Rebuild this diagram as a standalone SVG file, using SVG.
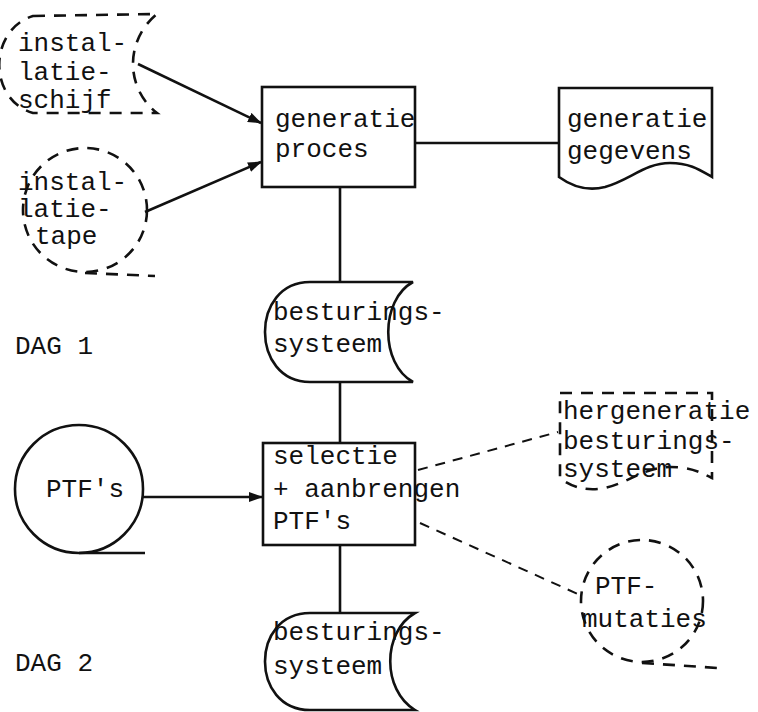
<svg xmlns="http://www.w3.org/2000/svg" width="758" height="712" viewBox="0 0 758 712">
  <style>
    .t { font-family: "Liberation Mono", "Courier New", monospace; font-size: 26px; fill: #111; }
    .s { fill: #fff; stroke: #111; stroke-width: 2.6; }
    .d { fill: none; stroke: #111; stroke-width: 2.6; stroke-dasharray: 12 9; }
    .c { fill: none; stroke: #111; stroke-width: 2.6; }
    .cd { fill: none; stroke: #111; stroke-width: 2; stroke-dasharray: 10 8; }
  </style>
  <defs>
    <marker id="arrow" viewBox="0 0 14 10" refX="13" refY="5" markerWidth="14" markerHeight="10" markerUnits="userSpaceOnUse" orient="auto">
      <path d="M0,0 L14,5 L0,10 Z" fill="#111"/>
    </marker>
  </defs>
  <rect width="758" height="712" fill="#fff"/>

  <!-- connectors -->
  <g id="connectors">
    <line class="c" x1="138" y1="64" x2="261" y2="123" marker-end="url(#arrow)"/>
    <line class="c" x1="145" y1="212" x2="261" y2="162" marker-end="url(#arrow)"/>
    <line class="c" x1="415" y1="143" x2="559" y2="143"/>
    <line class="c" x1="340" y1="187" x2="340" y2="282"/>
    <line class="c" x1="340" y1="382" x2="340" y2="443"/>
    <line class="c" x1="143" y1="497" x2="262" y2="497" marker-end="url(#arrow)"/>
    <line class="c" x1="340" y1="545" x2="340" y2="613"/>
    <line class="cd" x1="418" y1="470" x2="558" y2="432"/>
    <line class="cd" x1="420" y1="523" x2="580" y2="595"/>
  </g>

  <!-- installation disk (dashed) -->
  <g id="installatie-schijf">
    <path class="d" d="M33,16 L157,14 C125,40 125,88 157,113 L33,113 C-12,100 -12,30 33,16 Z"/>
    <text class="t" x="18" y="51">instal-</text>
    <text class="t" x="18" y="80">latie-</text>
    <text class="t" x="18" y="108">schijf</text>
  </g>

  <!-- installation tape (dashed) -->
  <g id="installatie-tape">
    <circle class="d" cx="85" cy="210" r="62"/>
    <line class="d" x1="85" y1="273" x2="155" y2="276"/>
    <text class="t" x="18" y="190">instal-</text>
    <text class="t" x="18" y="217">latie-</text>
    <text class="t" x="35" y="244">tape</text>
  </g>

  <!-- generation process -->
  <g id="generatie-proces">
    <rect class="s" x="262" y="87" width="153" height="100"/>
    <text class="t" x="275" y="127">generatie</text>
    <text class="t" x="275" y="157">proces</text>
  </g>

  <!-- generation data document -->
  <g id="generatie-gegevens">
    <path class="s" d="M559,88 H712 V177 C700,170 690,163 670,163 C645,163 630,180 605,187 C585,192 570,185 559,177 Z"/>
    <text class="t" x="567" y="127">generatie</text>
    <text class="t" x="567" y="159">gegevens</text>
  </g>

  <!-- operating system, day 1 -->
  <g id="besturingssysteem-1">
    <path class="s" d="M310,282 H413 C380,300 380,364 413,382 H310 C250,382 250,282 310,282 Z"/>
    <text class="t" x="273" y="320">besturings-</text>
    <text class="t" x="273" y="352">systeem</text>
  </g>

  <g id="dag-1">
    <text class="t" x="15" y="354">DAG 1</text>
  </g>

  <!-- PTF tape -->
  <g id="ptfs">
    <circle class="s" cx="79" cy="489" r="64"/>
    <line class="c" x1="79" y1="553" x2="145" y2="553"/>
    <text class="t" x="85" y="497" text-anchor="middle">PTF's</text>
  </g>

  <!-- selection and application -->
  <g id="selectie">
    <rect class="s" x="263" y="443" width="152" height="102"/>
    <text class="t" x="273" y="464">selectie</text>
    <text class="t" x="273" y="497">+ aanbrengen</text>
    <text class="t" x="273" y="529">PTF's</text>
  </g>

  <!-- regeneration document (dashed) -->
  <g id="hergeneratie">
    <path class="d" d="M560,393 H712 V478 C700,472 690,467 670,467 C645,467 630,482 605,488 C585,492 570,486 560,478 Z"/>
    <text class="t" x="563" y="419">hergeneratie</text>
    <text class="t" x="563" y="449">besturings-</text>
    <text class="t" x="563" y="477">systeem</text>
  </g>

  <!-- PTF mutations tape (dashed) -->
  <g id="ptf-mutaties">
    <circle class="d" cx="642" cy="601" r="61"/>
    <line class="d" x1="642" y1="663" x2="718" y2="668"/>
    <text class="t" x="595" y="594">PTF-</text>
    <text class="t" x="582" y="627">mutaties</text>
  </g>

  <!-- operating system, day 2 -->
  <g id="besturingssysteem-2">
    <path class="s" d="M310,613 H415 C382,632 382,690 415,710 H310 C250,710 250,613 310,613 Z"/>
    <text class="t" x="273" y="640">besturings-</text>
    <text class="t" x="273" y="674">systeem</text>
  </g>

  <g id="dag-2">
    <text class="t" x="15" y="671">DAG 2</text>
  </g>
</svg>
